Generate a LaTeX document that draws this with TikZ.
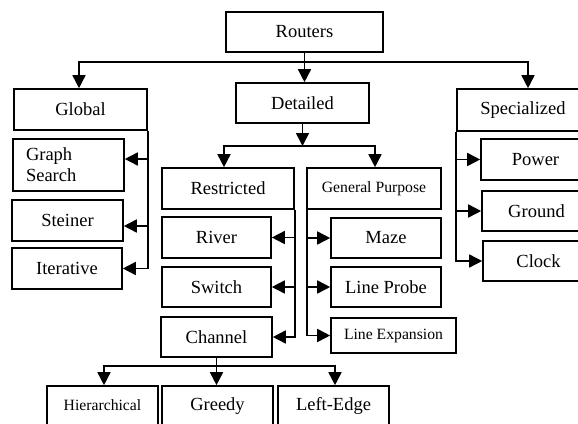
\documentclass[tikz,border=0pt]{standalone}
\usepackage{fontspec}
\setmainfont{Liberation Serif}
\usetikzlibrary{arrows.meta}
\begin{document}
\begin{tikzpicture}[x=1pt,y=-1pt,
  box/.style={draw,line width=1.6pt,inner sep=0pt,font=\fontsize{18.5}{21}\selectfont},
  sbox/.style={box,font=\fontsize{15.7}{18}\selectfont},
  link/.style={line width=1.6pt},
  arr/.style={link,-{Triangle[length=13pt,width=13pt]}}]
\useasboundingbox (0,0) rectangle (578,423);
\clip (0,0) rectangle (578,423);
% nodes
\node[box,minimum width=157pt,minimum height=40pt] (routers) at (304.5,32) {Routers};
\node[box,minimum width=133pt,minimum height=41pt] (global) at (80.5,109.5) {Global};
\node[box,minimum width=133pt,minimum height=40pt] (detailed) at (302.5,103) {Detailed};
\node[box,minimum width=132pt,minimum height=42pt] (special) at (523,110) {Specialized};
\node[box,minimum width=111pt,minimum height=52pt,align=left,text width=85pt] (graph) at (68.5,165) {Graph\\Search};
\node[box,minimum width=111pt,minimum height=41pt] (steiner) at (67.5,220.5) {Steiner};
\node[box,minimum width=110pt,minimum height=41pt] (iter) at (67,268.5) {Iterative};
\node[box,minimum width=132pt,minimum height=41pt] (restr) at (228,188.5) {Restricted};
\node[sbox,minimum width=134pt,minimum height=41pt] (genp) at (374,188.5) {General Purpose};
\node[box,minimum width=109pt,minimum height=41pt] (river) at (216.5,237.5) {River};
\node[box,minimum width=109pt,minimum height=40pt] (switch) at (216.5,287) {Switch};
\node[box,minimum width=111pt,minimum height=40pt] (channel) at (216.5,337) {Channel};
\node[box,minimum width=110pt,minimum height=40pt] (maze) at (386,238) {Maze};
\node[box,minimum width=110pt,minimum height=40pt] (probe) at (386,287) {Line Probe};
\node[sbox,minimum width=125pt,minimum height=35pt] (expan) at (393.5,335.5) {Line Expansion};
\node[box,minimum width=109pt,minimum height=41pt] (power) at (535.5,159.5) {Power};
\node[box,minimum width=109pt,minimum height=40pt] (ground) at (536.5,211) {Ground};
\node[box,minimum width=111pt,minimum height=40pt] (clock) at (538.5,261) {Clock};
\node[sbox,minimum width=111pt,minimum height=40pt,text depth=0pt] (hier) at (102.5,406) {\raisebox{2pt}{Hierarchical}};
\node[box,minimum width=111pt,minimum height=40pt] (greedy) at (217.5,406) {Greedy};
\node[box,minimum width=111pt,minimum height=40pt] (left) at (333.5,406) {Left-Edge};
% junctions
\coordinate (j1) at (304.5,62);
\coordinate (j2) at (302.5,146);
\coordinate (j3) at (216.5,366);
% routers
\draw[link] (routers.south) -- (j1);
\draw[arr] (j1) -| ([xshift=-1.5pt]global.north);
\draw[arr] (j1) -- (detailed.north -| j1);
\draw[arr] (j1) -| ([xshift=5pt]special.north);
% detailed
\draw[arr] (detailed.south) -- (j2);
\draw[arr] (j2) -| ([xshift=-4pt]restr.north);
\draw[arr] (j2) -| ([xshift=1pt]genp.north);
% global
\draw[arr] (global.south east) |- ([yshift=6pt]graph.east);
\draw[arr] (global.south east) |- ([yshift=-5.5pt]steiner.east);
\draw[arr] (global.south east) |- (iter.east);
% restricted
\draw[arr] (restr.south east) |- (river.east);
\draw[arr] (restr.south east) |- (switch.east);
\draw[arr] (restr.south east) |- (channel.east);
% general purpose
\draw[arr] ([xshift=1pt]genp.south west) |- (maze.west);
\draw[arr] ([xshift=1pt]genp.south west) |- (probe.west);
\draw[arr] ([xshift=1pt]genp.south west) |- (expan.west);
% specialized
\draw[arr] (special.south west) |- (power.west);
\draw[arr] (special.south west) |- (ground.west);
\draw[arr] (special.south west) |- (clock.west);
% channel
\draw[link] (channel.south) -- (j3);
\draw[arr] (j3) -| ([xshift=1.5pt]hier.north);
\draw[arr] (j3) -- (greedy.north -| j3);
\draw[arr] (j3) -| ([xshift=1.5pt]left.north);
\end{tikzpicture}
\end{document}
